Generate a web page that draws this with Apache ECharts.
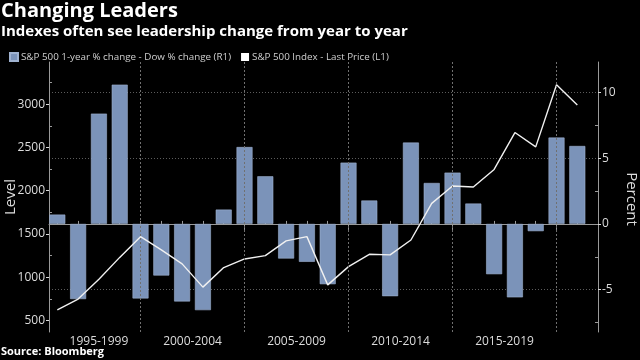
<!DOCTYPE html>
<html>
<head>
<meta charset="utf-8">
<script src="https://cdn.jsdelivr.net/npm/echarts@6/dist/echarts.min.js"></script>
<style>
html,body{margin:0;padding:0;background:#000;}
#c{width:640px;height:360px;}
</style>
</head>
<body>
<div id="c"></div>
<script>
const years = [1995,1996,1997,1998,1999,2000,2001,2002,2003,2004,2005,2006,2007,2008,2009,2010,2011,2012,2013,2014,2015,2016,2017,2018,2019,2020];
const spxMinusDow = [0.71,-5.71,8.38,10.58,-5.66,-3.92,-5.89,-6.55,1.09,5.84,3.62,-2.63,-2.88,-4.58,4.66,1.78,-5.49,6.18,3.11,3.90,1.55,-3.82,-5.58,-0.55,6.56,5.92];
const spxLevel = [623,747,977,1229,1469,1315,1154,885,1111,1211,1250,1420,1469,911,1122,1265,1258,1430,1854,2054,2044,2246,2673,2507,3226,2992];
const periodLabels = ['1995-1999','2000-2004','2005-2009','2010-2014','2015-2019'];
const periodLabelPos = [1997,2001.5,2006.5,2011.5,2016.5];
const periodBreaks = [1999,2004,2009,2014,2019];
const levelTicks = [500,1000,1500,2000,2500,3000];
const levelMinorTicks = [750,1250,1750,2250,2750,3250];
const percentTicks = [-5,0,5,10];
const percentMinorTicks = [-7.5,-2.5,2.5,7.5];

const FONT = 'Open Sans';
const chart = echarts.init(document.getElementById('c'), null, {renderer:'canvas'});
const XMIN = 1994.6, XMAX = 2020.994;
const LMIN = 366, LMAX = 3489;
const PMIN = -8.21, PMAX = 12.30;
const barName = 'S&P 500 1-year % change - Dow % change (R1)';
const lineName = 'S&P 500 Index - Last Price (L1)';
const gridStyle = {color:'#5c5c5c', type:[1,2], width:1};

chart.setOption({
  backgroundColor:'#000',
  animation:false,
  textStyle:{fontFamily:FONT},
  grid:{left:49,right:42,top:62,bottom:28},
  legend:{
    left:4, top:47, icon:'rect', itemWidth:8, itemHeight:8, itemGap:10,
    textStyle:{color:'#cfcfcf', fontSize:9.8, fontFamily:FONT, padding:[0,0,0,-2]},
    data:[{name:barName, itemStyle:{color:'#7b93b9'}},{name:lineName, itemStyle:{color:'#ffffff'}}]
  },
  graphic:[
    {type:'text', left:1, top:1, style:{text:'Changing Leaders', fill:'#fff', font:'bold 20px "Open Sans"'}},
    {type:'text', left:1, top:24, style:{text:'Indexes often see leadership change from year to year', fill:'#fff', font:'bold 15px "Open Sans"'}},
    {type:'text', left:1, top:346, style:{text:'Source: Bloomberg', fill:'#fff', font:'bold 11px "Open Sans"'}},
    {type:'text', x:3, y:197, rotation:Math.PI/2, style:{text:'Level', fill:'#dcdcdc', font:'15px "Open Sans"', align:'center', verticalAlign:'top'}},
    {type:'text', x:639, y:199, rotation:-Math.PI/2, style:{text:'Percent', fill:'#dcdcdc', font:'15px "Open Sans"', align:'center', verticalAlign:'top'}}
  ],
  xAxis:[
    {type:'value', min:XMIN, max:XMAX, position:'bottom',
     axisLine:{show:true, lineStyle:{color:'#9a9a9a', width:1}},
     axisTick:{show:true, length:6, customValues:periodBreaks, lineStyle:{color:'#9a9a9a'}},
     axisLabel:{show:true, customValues:periodLabelPos, color:'#dcdcdc', fontSize:12, margin:4, fontFamily:FONT,
       formatter:function(v){ const i = periodLabelPos.indexOf(v); return i>=0 ? periodLabels[i] : ''; }},
     splitLine:{show:false}},
    {type:'value', min:XMIN, max:XMAX, position:'bottom',
     axisLine:{show:false},
     axisTick:{show:true, inside:true, length:3, customValues:years, lineStyle:{color:'#9a9a9a'}},
     axisLabel:{show:false}, splitLine:{show:false}}
  ],
  yAxis:[
    {type:'value', position:'left', min:LMIN, max:LMAX,
     axisLine:{show:true, lineStyle:{color:'#9a9a9a'}},
     axisTick:{show:true, length:3, customValues:levelTicks, lineStyle:{color:'#dcdcdc'}},
     axisLabel:{show:true, customValues:levelTicks, color:'#dcdcdc', fontSize:12, margin:4, fontFamily:FONT,
       formatter:function(v){ return String(v); }},
     splitLine:{show:false}},
    {type:'value', position:'right', min:PMIN, max:PMAX,
     axisLine:{show:true, lineStyle:{color:'#9a9a9a'}},
     axisTick:{show:true, length:3, customValues:percentTicks, lineStyle:{color:'#dcdcdc'}},
     axisLabel:{show:true, customValues:percentTicks, color:'#dcdcdc', fontSize:12, margin:4, fontFamily:FONT,
       formatter:function(v){ return String(v); }},
     splitLine:{show:true, lineStyle:gridStyle}},
    {type:'value', position:'left', min:LMIN, max:LMAX,
     axisLine:{show:false},
     axisTick:{show:true, inside:true, length:3, customValues:levelMinorTicks, lineStyle:{color:'#9a9a9a'}},
     axisLabel:{show:false}, splitLine:{show:false}},
    {type:'value', position:'right', min:PMIN, max:PMAX,
     axisLine:{show:false},
     axisTick:{show:true, inside:true, length:3, customValues:percentMinorTicks, lineStyle:{color:'#9a9a9a'}},
     axisLabel:{show:false}, splitLine:{show:false}}
  ],
  series:[
    {name:barName, type:'bar', xAxisIndex:0, yAxisIndex:1, barWidth:16, z:2,
     itemStyle:{color:'#7b93b9', borderColor:'#9fb2d0', borderWidth:0.6},
     markLine:{silent:true, symbol:'none', label:{show:false},
       lineStyle:{color:'#707070', width:1, type:[2,2], opacity:1},
       data:periodBreaks.map(v=>({xAxis:v}))},
     data:years.map((y,i)=>[y, spxMinusDow[i]])},
    {name:lineName, type:'line', xAxisIndex:0, yAxisIndex:0, symbol:'none', z:3,
     lineStyle:{color:'#f0f0f0', width:1.4}, itemStyle:{color:'#ffffff'},
     data:years.map((y,i)=>[y, spxLevel[i]])}
  ]
});
</script>
</body>
</html>
